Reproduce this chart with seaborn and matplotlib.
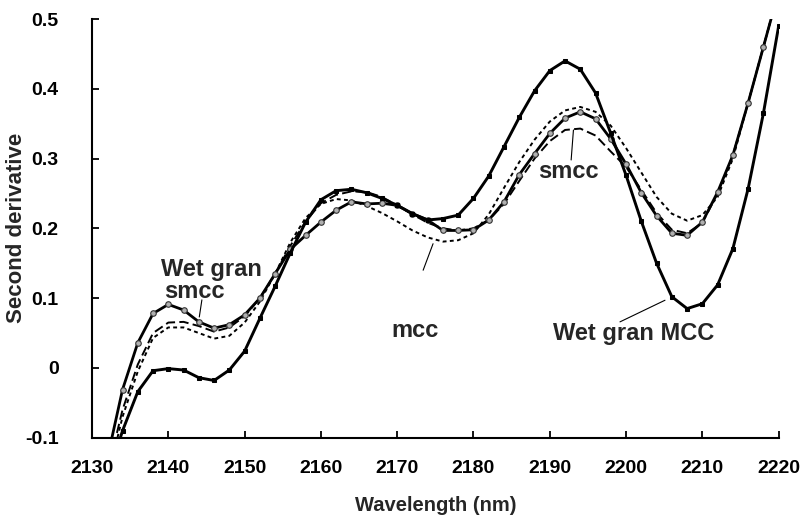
import matplotlib
matplotlib.use("Agg")
import matplotlib.pyplot as plt
import seaborn as sns
import numpy as np
import pandas as pd

# ---- data -------------------------------------------------------------
wavelength = [2132, 2134, 2136, 2138, 2140, 2142, 2144, 2146, 2148, 2150,
              2152, 2154, 2156, 2158, 2160, 2162, 2164, 2166, 2168, 2170,
              2172, 2174, 2176, 2178, 2180, 2182, 2184, 2186, 2188, 2190,
              2192, 2194, 2196, 2198, 2200, 2202, 2204, 2206, 2208, 2210,
              2212, 2214, 2216, 2218, 2220]

wet_gran_mcc = [-0.16, -0.09, -0.034, -0.004, -0.001, -0.003, -0.014, -0.018, -0.003, 0.024,
                0.071, 0.117, 0.165, 0.209, 0.241, 0.254, 0.256, 0.251, 0.243, 0.233,
                0.221, 0.212, 0.214, 0.219, 0.243, 0.275, 0.317, 0.359, 0.397, 0.426,
                0.440, 0.428, 0.394, 0.336, 0.276, 0.210, 0.150, 0.102, 0.085, 0.092,
                0.119, 0.171, 0.257, 0.365, 0.490]

wet_gran_smcc = [-0.13, -0.031, 0.036, 0.078, 0.091, 0.083, 0.066, 0.057, 0.062, 0.076,
                 0.100, 0.135, 0.170, 0.190, 0.209, 0.226, 0.238, 0.235, 0.236, 0.233,
                 0.221, 0.212, 0.197, 0.197, 0.198, 0.212, 0.238, 0.277, 0.307, 0.336,
                 0.358, 0.367, 0.357, 0.328, 0.292, 0.251, 0.218, 0.193, 0.190, 0.209,
                 0.252, 0.305, 0.380, 0.460, 0.540]

smcc = [-0.15, -0.060, 0.005, 0.050, 0.065, 0.066, 0.060, 0.052, 0.058, 0.074,
        0.100, 0.135, 0.175, 0.210, 0.236, 0.248, 0.253, 0.252, 0.245, 0.233,
        0.220, 0.208, 0.200, 0.197, 0.200, 0.212, 0.235, 0.268, 0.300, 0.325,
        0.341, 0.343, 0.333, 0.310, 0.288, 0.255, 0.222, 0.198, 0.193, 0.208,
        0.250, 0.305, 0.380, 0.460, 0.540]

mcc = [-0.16, -0.070, -0.005, 0.043, 0.058, 0.058, 0.050, 0.042, 0.046, 0.065,
       0.095, 0.135, 0.180, 0.215, 0.235, 0.242, 0.240, 0.232, 0.222, 0.210,
       0.197, 0.187, 0.181, 0.183, 0.193, 0.220, 0.258, 0.295, 0.327, 0.353,
       0.369, 0.374, 0.367, 0.347, 0.315, 0.280, 0.245, 0.221, 0.211, 0.219,
       0.245, 0.300, 0.380, 0.460, 0.540]

x_ticks = [2130, 2140, 2150, 2160, 2170, 2180, 2190, 2200, 2210, 2220]
y_ticks = [-0.1, 0.0, 0.1, 0.2, 0.3, 0.4, 0.5]
y_tick_labels = ["-0.1", "0", "0.1", "0.2", "0.3", "0.4", "0.5"]

# ---- style ------------------------------------------------------------
sns.set_theme(style="ticks")
plt.rcParams["font.family"] = ["Liberation Sans", "DejaVu Sans"]
plt.rcParams["font.weight"] = "bold"

fig = plt.figure(figsize=(8.03, 5.18), dpi=100)
ax = fig.add_axes([0.1146, 0.155, 0.9697 - 0.1146, 0.9633 - 0.155])

df = pd.DataFrame({"wl": wavelength, "wgm": wet_gran_mcc, "wgs": wet_gran_smcc,
                   "smcc": smcc, "mcc": mcc})

sns.lineplot(data=df, x="wl", y="mcc", ax=ax, color="black", linewidth=1.4,
             linestyle=(0, (2.0, 1.7)), clip_on=True)
sns.lineplot(data=df, x="wl", y="smcc", ax=ax, color="black", linewidth=1.4,
             linestyle=(0, (4.8, 2.2)), clip_on=True)
sns.lineplot(data=df, x="wl", y="wgs", ax=ax, color="black", linewidth=2.0,
             marker="o", markersize=4, markerfacecolor="#b0b0b0",
             markeredgecolor="#333333", markeredgewidth=0.8, clip_on=True)
sns.lineplot(data=df, x="wl", y="wgm", ax=ax, color="black", linewidth=2.1,
             marker="s", markersize=3.5, markerfacecolor="black",
             markeredgecolor="black", clip_on=True)

ax.set_xlim(2130, 2220)
ax.set_ylim(-0.1, 0.5)
ax.set_xticks(x_ticks)
ax.set_yticks(y_ticks)
ax.set_yticklabels(y_tick_labels)
ax.tick_params(direction="in", length=5, width=1.3, labelsize=14,
               colors="black")
ax.tick_params(axis="y", pad=24)
ax.tick_params(axis="x", pad=16)
for lab in ax.get_xticklabels() + ax.get_yticklabels():
    lab.set_fontweight("bold")

sns.despine(ax=ax)
ax.spines["left"].set_linewidth(1.5)
ax.spines["bottom"].set_linewidth(1.5)
ax.spines["left"].set_color("black")
ax.spines["bottom"].set_color("black")

ax.set_xlabel("Wavelength (nm)", fontsize=14.5, fontweight="bold", labelpad=14)
ax.set_ylabel("Second derivative", fontsize=16, fontweight="bold")
ax.yaxis.set_label_coords(-0.094, 0.5)

# ---- annotations --------------------------------------------------------
afs = 17
ax.text(2139.1, 0.1315, "Wet gran", fontsize=afs, fontweight="bold",
        ha="left", va="baseline")
ax.text(2139.4, 0.1000, "smcc", fontsize=afs, fontweight="bold",
        ha="left", va="baseline")
ax.plot([2144.06, 2144.4], [0.073, 0.0975], color="black", lw=0.8)

ax.text(2172.3, 0.054, "mcc", fontsize=afs, fontweight="bold",
        ha="center", va="center")
ax.plot([2173.4, 2174.7], [0.140, 0.178], color="black", lw=0.8)

ax.text(2192.5, 0.282, "smcc", fontsize=afs, fontweight="bold",
        ha="center", va="center")
ax.plot([2192.8, 2193.1], [0.298, 0.341], color="black", lw=0.8)

ax.text(2201.0, 0.050, "Wet gran MCC", fontsize=afs, fontweight="bold",
        ha="center", va="center")
ax.plot([2199.2, 2205.1], [0.066, 0.097], color="black", lw=0.8)

fig.savefig("out.png", dpi=100)
